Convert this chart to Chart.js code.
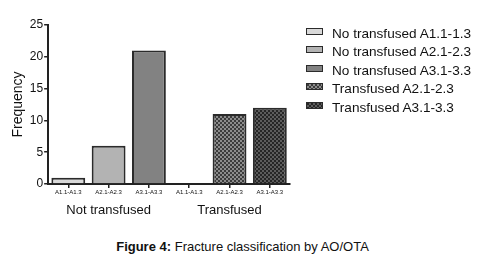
<!DOCTYPE html>
<html>
<head>
<meta charset="utf-8">
<script src="https://cdn.jsdelivr.net/npm/chart.js@4.4.1/dist/chart.umd.min.js"></script>
<style>
    body { margin: 0; background: #fff; font-family: Arial, "Liberation Sans", sans-serif; }
    #wrap { position: relative; width: 485px; height: 264px; }
    #grafico { position: absolute; left: 0; top: 0; }
    #leyenda { position: absolute; left: 306px; top: 25px; margin: 0; padding: 0; list-style: none; font-size: 13.6px; color: #111; }
    #leyenda li { height: 18.4px; line-height: 18.4px; white-space: nowrap; }
    #leyenda span { display: inline-block; width: 15px; height: 5px; border: 1.5px solid #2b2b2b; margin-right: 9px; vertical-align: 3px; }
    #caption { position: absolute; left: 0; top: 239px; width: 485px; text-align: center; font-size: 13px; color: #111; }
</style>
</head>
<body>
<div id="wrap">
    <canvas id="grafico" width="485" height="217"></canvas>
    <ul id="leyenda"></ul>
    <div id="caption"><b>Figure 4:</b> Fracture classification by AO/OTA</div>
</div>
<script>
const categorias = ["A1.1-A1.3", "A2.1-A2.3", "A3.1-A3.3", "A1.1-A1.3", "A2.1-A2.3", "A3.1-A3.3"];
const grupos = ["", "Not transfused", "", "", "Transfused", ""];
const frecuencias = [1, 6, 21, 0, 11, 12];
const leyendaTextos = ["No transfused A1.1-1.3", "No transfused A2.1-2.3", "No transfused A3.1-3.3", "Transfused A2.1-2.3", "Transfused A3.1-3.3"];
const leyendaBarras = [0, 1, 2, 4, 5];
const ticksY = [0, 5, 10, 15, 20, 25];

const fondos = ["#d9d9d9", "#b3b3b3", "#828282", "#ffffff", "#3c3c3c", "#262626"];
const puntos = [null, null, null, null, "#8c8c8c", "#5c5c5c"];

// patron de cuadritos para las barras de transfundidos
function patron(fondo, punto) {
    const c = document.createElement("canvas");
    c.width = 4; c.height = 4;
    const g = c.getContext("2d");
    g.fillStyle = fondo;
    g.fillRect(0, 0, 4, 4);
    g.fillStyle = punto;
    g.fillRect(0, 0, 2, 2);
    g.fillRect(2, 2, 2, 2);
    return g.createPattern(c, "repeat");
}

const colores = fondos.map((f, i) => puntos[i] ? patron(f, puntos[i]) : f);

// leyenda en html
leyendaTextos.forEach((texto, i) => {
    const k = leyendaBarras[i];
    const li = document.createElement("li");
    const caja = document.createElement("span");
    caja.style.background = puntos[k]
        ? `repeating-conic-gradient(${puntos[k]} 0 25%, ${fondos[k]} 0 50%) 0 0 / 4px 4px`
        : fondos[k];
    li.appendChild(caja);
    li.appendChild(document.createTextNode(texto));
    document.getElementById("leyenda").appendChild(li);
});

const ctx = document.getElementById("grafico").getContext("2d");
new Chart(ctx, {
    type: "bar",
    data: {
        labels: categorias,
        datasets: [{
            data: frecuencias,
            backgroundColor: colores,
            borderColor: "#2b2b2b",
            borderWidth: 2,
            barPercentage: 0.84,
            categoryPercentage: 1
        }]
    },
    options: {
        responsive: false,
        animation: false,
        layout: { padding: { left: 8, top: 25, right: 195, bottom: 0 } },
        plugins: {
            tooltip: { enabled: false },
            legend: { display: false }
        },
        scales: {
            x: {
                grid: { display: true, drawOnChartArea: false, offset: false, tickLength: 4, color: "#222", lineWidth: 1.5 },
                border: { color: "#222", width: 2 },
                ticks: { color: "#111", font: { family: "Arial, 'Liberation Sans'", size: 6, lineHeight: 1 }, maxRotation: 0, autoSkip: false, padding: 1 }
            },
            x2: {
                type: "category",
                labels: grupos,
                position: "bottom",
                grid: { display: false },
                border: { display: false },
                ticks: { color: "#111", font: { family: "Arial, 'Liberation Sans'", size: 13, lineHeight: 1 }, maxRotation: 0, autoSkip: false, padding: 0 }
            },
            y: {
                min: 0,
                max: 25,
                afterBuildTicks: axis => { axis.ticks = ticksY.map(v => ({ value: v })); },
                grid: { display: true, drawOnChartArea: false, tickLength: 4, color: "#222", lineWidth: 1.5 },
                border: { color: "#222", width: 2 },
                ticks: { color: "#111", font: { family: "Arial, 'Liberation Sans'", size: 12 }, padding: 1 },
                title: { display: true, text: "Frequency", color: "#111", font: { family: "Arial, 'Liberation Sans'", size: 14 }, padding: 2 }
            }
        }
    }
});
</script>
</body>
</html>
